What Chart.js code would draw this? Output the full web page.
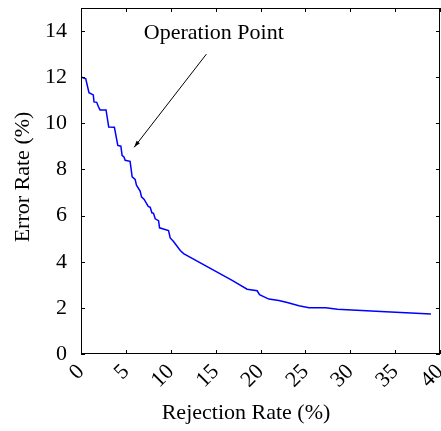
<!DOCTYPE html>
<html>
<head>
<meta charset="utf-8">
<script src="https://cdn.jsdelivr.net/npm/chart.js@4/dist/chart.umd.min.js"></script>
<style>
  html, body { margin: 0; padding: 0; background: #fff; }
  #wrap { width: 441px; height: 431px; }
</style>
</head>
<body>
<div id="wrap"><canvas id="chart" width="441" height="431"></canvas></div>
<script>
// rejection rate (%) vs error rate (%)
const rejectionRate = [0, 0.53, 0.89, 1.37, 1.45, 1.75, 1.93, 2.12, 2.79, 3.09, 3.72, 4.10, 4.44, 4.58, 4.80, 4.92,
    5.47, 5.70, 6.03, 6.18, 6.59, 6.74, 7.04, 7.49, 7.71, 7.90, 8.08, 8.27, 8.64, 8.75, 9.75, 9.94, 10.31,
    11.06, 11.43, 16.84, 18.51, 19.63, 19.89, 20.93, 22.04, 22.98, 24.28, 25.40, 27.26, 28.57, 33.41, 38.99];
const errorRate = [12.01, 11.93, 11.33, 11.23, 10.93, 10.91, 10.73, 10.58, 10.58, 9.84, 9.83, 9.04, 9.01, 8.61, 8.53, 8.40,
    8.35, 7.68, 7.57, 7.32, 7.06, 6.81, 6.70, 6.40, 6.36, 6.12, 6.10, 5.86, 5.78, 5.47, 5.35, 5.03, 4.88,
    4.49, 4.35, 3.19, 2.81, 2.74, 2.57, 2.38, 2.32, 2.23, 2.09, 2.01, 2.01, 1.94, 1.84, 1.73];

const xTicks = [0, 5, 10, 15, 20, 25, 30, 35, 40];
const yTicks = [0, 2, 4, 6, 8, 10, 12, 14];

const xTitle = 'Rejection Rate (%)';
const yTitle = 'Error Rate (%)';

// annotation: label and arrow, in data units
const noteText = 'Operation Point';
const noteLabel = [14.8, 13.9];
const arrowFrom = [13.97, 13.0];
const arrowTo = [5.92, 8.96];

const serif = '"Liberation Serif", "Times New Roman", serif';

const points = rejectionRate.map((x, i) => ({ x: x, y: errorRate[i] }));

// frame, inward tick marks, axis titles, annotation
const framePlugin = {
    id: 'frame',
    afterDraw(chart) {
        const ctx = chart.ctx;
        const a = chart.chartArea;
        const xs = chart.scales.x, ys = chart.scales.y;
        ctx.save();
        ctx.strokeStyle = '#000';
        ctx.lineWidth = 1;
        ctx.strokeRect(a.left + 0.5, a.top + 0.5, a.right - a.left - 1, a.bottom - a.top - 1);
        ctx.beginPath();
        xTicks.forEach(v => {
            const px = Math.round(xs.getPixelForValue(v)) + 0.5;
            ctx.moveTo(px, a.bottom); ctx.lineTo(px, a.bottom - 4);
            ctx.moveTo(px, a.top); ctx.lineTo(px, a.top + 4);
        });
        yTicks.forEach(v => {
            const py = Math.round(ys.getPixelForValue(v)) + 0.5;
            ctx.moveTo(a.left, py); ctx.lineTo(a.left + 4, py);
            ctx.moveTo(a.right, py); ctx.lineTo(a.right - 4, py);
        });
        ctx.stroke();

        const x0 = xs.getPixelForValue(arrowFrom[0]), y0 = ys.getPixelForValue(arrowFrom[1]);
        const x1 = xs.getPixelForValue(arrowTo[0]), y1 = ys.getPixelForValue(arrowTo[1]);
        ctx.beginPath();
        ctx.moveTo(x0, y0); ctx.lineTo(x1, y1);
        ctx.stroke();
        const ang = Math.atan2(y1 - y0, x1 - x0);
        ctx.beginPath();
        ctx.moveTo(x1, y1);
        ctx.lineTo(x1 - 7 * Math.cos(ang - 0.3), y1 - 7 * Math.sin(ang - 0.3));
        ctx.lineTo(x1 - 7 * Math.cos(ang + 0.3), y1 - 7 * Math.sin(ang + 0.3));
        ctx.closePath();
        ctx.fillStyle = '#000';
        ctx.fill();

        ctx.font = '22px ' + serif;
        ctx.textAlign = 'center';
        ctx.textBaseline = 'middle';
        ctx.fillText(noteText, xs.getPixelForValue(noteLabel[0]), ys.getPixelForValue(noteLabel[1]));

        // axis titles
        ctx.fillText(xTitle, 246, 413);
        ctx.translate(23, 177);
        ctx.rotate(-Math.PI / 2);
        ctx.fillText(yTitle, 0, 0);
        ctx.restore();
    }
};

new Chart(document.getElementById('chart'), {
    type: 'line',
    data: {
        datasets: [{
            data: points,
            borderColor: '#0000ff',
            borderWidth: 1.5,
            pointRadius: 0,
            tension: 0,
            fill: false
        }]
    },
    options: {
        responsive: false,
        animation: false,
        layout: { padding: { top: 8, right: 1, left: 0, bottom: 0 } },
        plugins: { legend: { display: false }, tooltip: { enabled: false } },
        scales: {
            x: {
                type: 'linear',
                min: 0,
                max: 40,
                afterBuildTicks: s => { s.ticks = xTicks.map(v => ({ value: v })); },
                afterFit: s => { s.height = 77; s.paddingLeft = 0; s.paddingRight = 0; },
                grid: { display: false, drawTicks: false },
                border: { display: false },
                ticks: {
                    color: '#000',
                    font: { family: serif, size: 22 },
                    minRotation: 45,
                    maxRotation: 45,
                    padding: 5
                }
            },
            y: {
                min: 0,
                max: 15,
                afterBuildTicks: s => { s.ticks = yTicks.map(v => ({ value: v })); },
                afterFit: s => { s.width = 81; s.paddingTop = 0; s.paddingBottom = 0; },
                grid: { display: false, drawTicks: false },
                border: { display: false },
                ticks: {
                    color: '#000',
                    font: { family: serif, size: 22 },
                    padding: 14
                }
            }
        }
    },
    plugins: [framePlugin]
});
</script>
</body>
</html>
